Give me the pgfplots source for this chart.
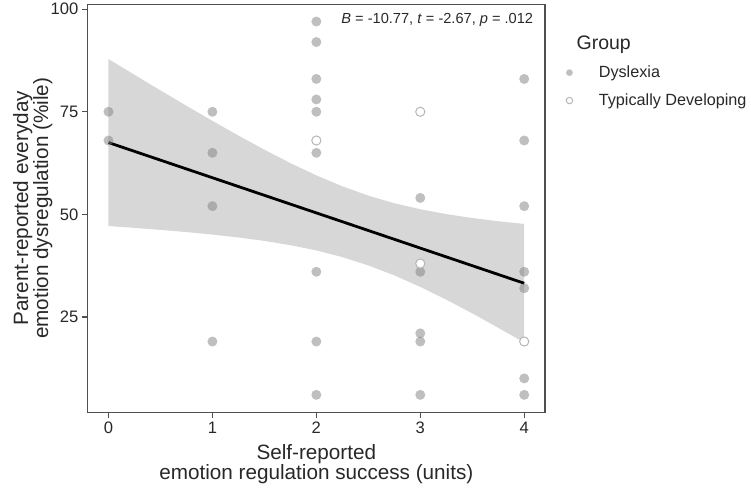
\documentclass[border=0pt]{standalone}
\usepackage{fontspec}
\setmainfont{Liberation Sans}
\usepackage{pgfplots}
\pgfplotsset{compat=1.18}
\usepgfplotslibrary{fillbetween}

\definecolor{framegray}{RGB}{80,80,80}
\definecolor{ticktext}{RGB}{40,40,40}
\definecolor{band}{RGB}{215,215,215}
\definecolor{ptgray}{RGB}{128,128,128}
\definecolor{opengray}{RGB}{182,182,182}

% confidence band of the linear fit: x, lower, upper
\pgfplotstableread{
x     lo     hi
0.00  47.15  87.85
0.25  46.70  84.02
0.50  46.21  80.21
0.75  45.68  76.46
1.00  45.07  72.79
1.25  44.36  69.20
1.50  43.52  65.76
1.75  42.49  62.49
2.00  41.20  59.50
2.25  39.58  56.84
2.50  37.55  54.57
2.75  35.13  52.71
3.00  32.32  51.24
3.25  29.20  50.06
3.50  25.87  49.11
3.75  22.36  48.32
4.00  18.74  47.66
}\bandtable

\begin{document}
\begin{tikzpicture}
\begin{axis}[
  scale only axis, width=457.3pt, height=408pt,
  xmin=-0.2, xmax=4.2, ymin=1.75, ymax=101.2,
  xtick={0,1,2,3,4}, ytick={25,50,75,100},
  tick pos=left, tick align=outside, major tick length=5.8pt,
  axis line style={framegray, line width=1.2pt},
  every tick/.style={framegray, line width=1.2pt},
  /pgf/number format/assume math mode=true,
  ticklabel style={font=\fontsize{16.6}{19}\selectfont, text=ticktext},
  xlabel={Self-reported\\emotion regulation success (units)},
  ylabel={Parent-reported everyday\\emotion dysregulation (\%ile)},
  xlabel style={at={(axis description cs:0.5,-0.0792)}, anchor=north,
    align=center, inner sep=0pt, font=\fontsize{20.7}{20}\selectfont, text=ticktext},
  ylabel style={at={(axis description cs:-0.1633,0.5)}, anchor=north,
    align=center, inner sep=0pt, font=\fontsize{20.7}{20}\selectfont, text=ticktext},
  legend style={at={(axis description cs:1.046,0.8536)}, anchor=north west,
    draw=none, fill=none, font=\fontsize{16.2}{19}\selectfont, row sep=10.7pt,
    text=ticktext, inner sep=0pt, outer sep=0pt,
    /tikz/every odd column/.append style={column sep=24pt}},
  legend cell align=left,
  clip=false,
]
\addplot[draw=none, name path=hi, forget plot] table[x=x, y=hi] {\bandtable};
\addplot[draw=none, name path=lo, forget plot] table[x=x, y=lo] {\bandtable};
\addplot[band, draw=none, forget plot] fill between[of=hi and lo];

\addplot[only marks, mark=*, mark size=5pt, color=ptgray,
  mark options={draw opacity=0, fill=ptgray, fill opacity=0.5},
  legend image post style={mark size=3.4pt}] coordinates {
  (0,75) (0,68)
  (1,75) (1,65) (1,52) (1,19)
  (2,97) (2,92) (2,83) (2,78) (2,75) (2,65) (2,36) (2,19) (2,6)
  (3,54) (3,36) (3,21) (3,19) (3,6)
  (4,83) (4,68) (4,52) (4,36) (4,32) (4,10) (4,6)
};
\addlegendentry{Dyslexia}

\addplot[only marks, mark=*, mark size=4.6pt, color=opengray,
  mark options={draw=opengray, fill=white, line width=1pt},
  legend image post style={mark size=3.2pt}] coordinates {
  (2,68) (3,75) (3,38) (4,19)
};
\addlegendentry{Typically Developing}

\addplot[black, line width=2.8pt, forget plot] coordinates {(0,67.5) (4,33.2)};

\node[anchor=east, inner sep=0pt, font=\fontsize{14.6}{17}\selectfont, text=ticktext]
  at (axis description cs:0.9744,0.9618)
  {\textit{B} = -10.77, \textit{t} = -2.67, \textit{p} = .012};
\node[anchor=base west, inner sep=0pt, font=\fontsize{19.5}{22}\selectfont, text=ticktext]
  at (axis description cs:1.0687,0.8890) {Group};
\end{axis}
\path[use as bounding box] (-87.7pt,-76.3pt) rectangle (663.3pt,410.7pt);
\end{tikzpicture}
\end{document}
